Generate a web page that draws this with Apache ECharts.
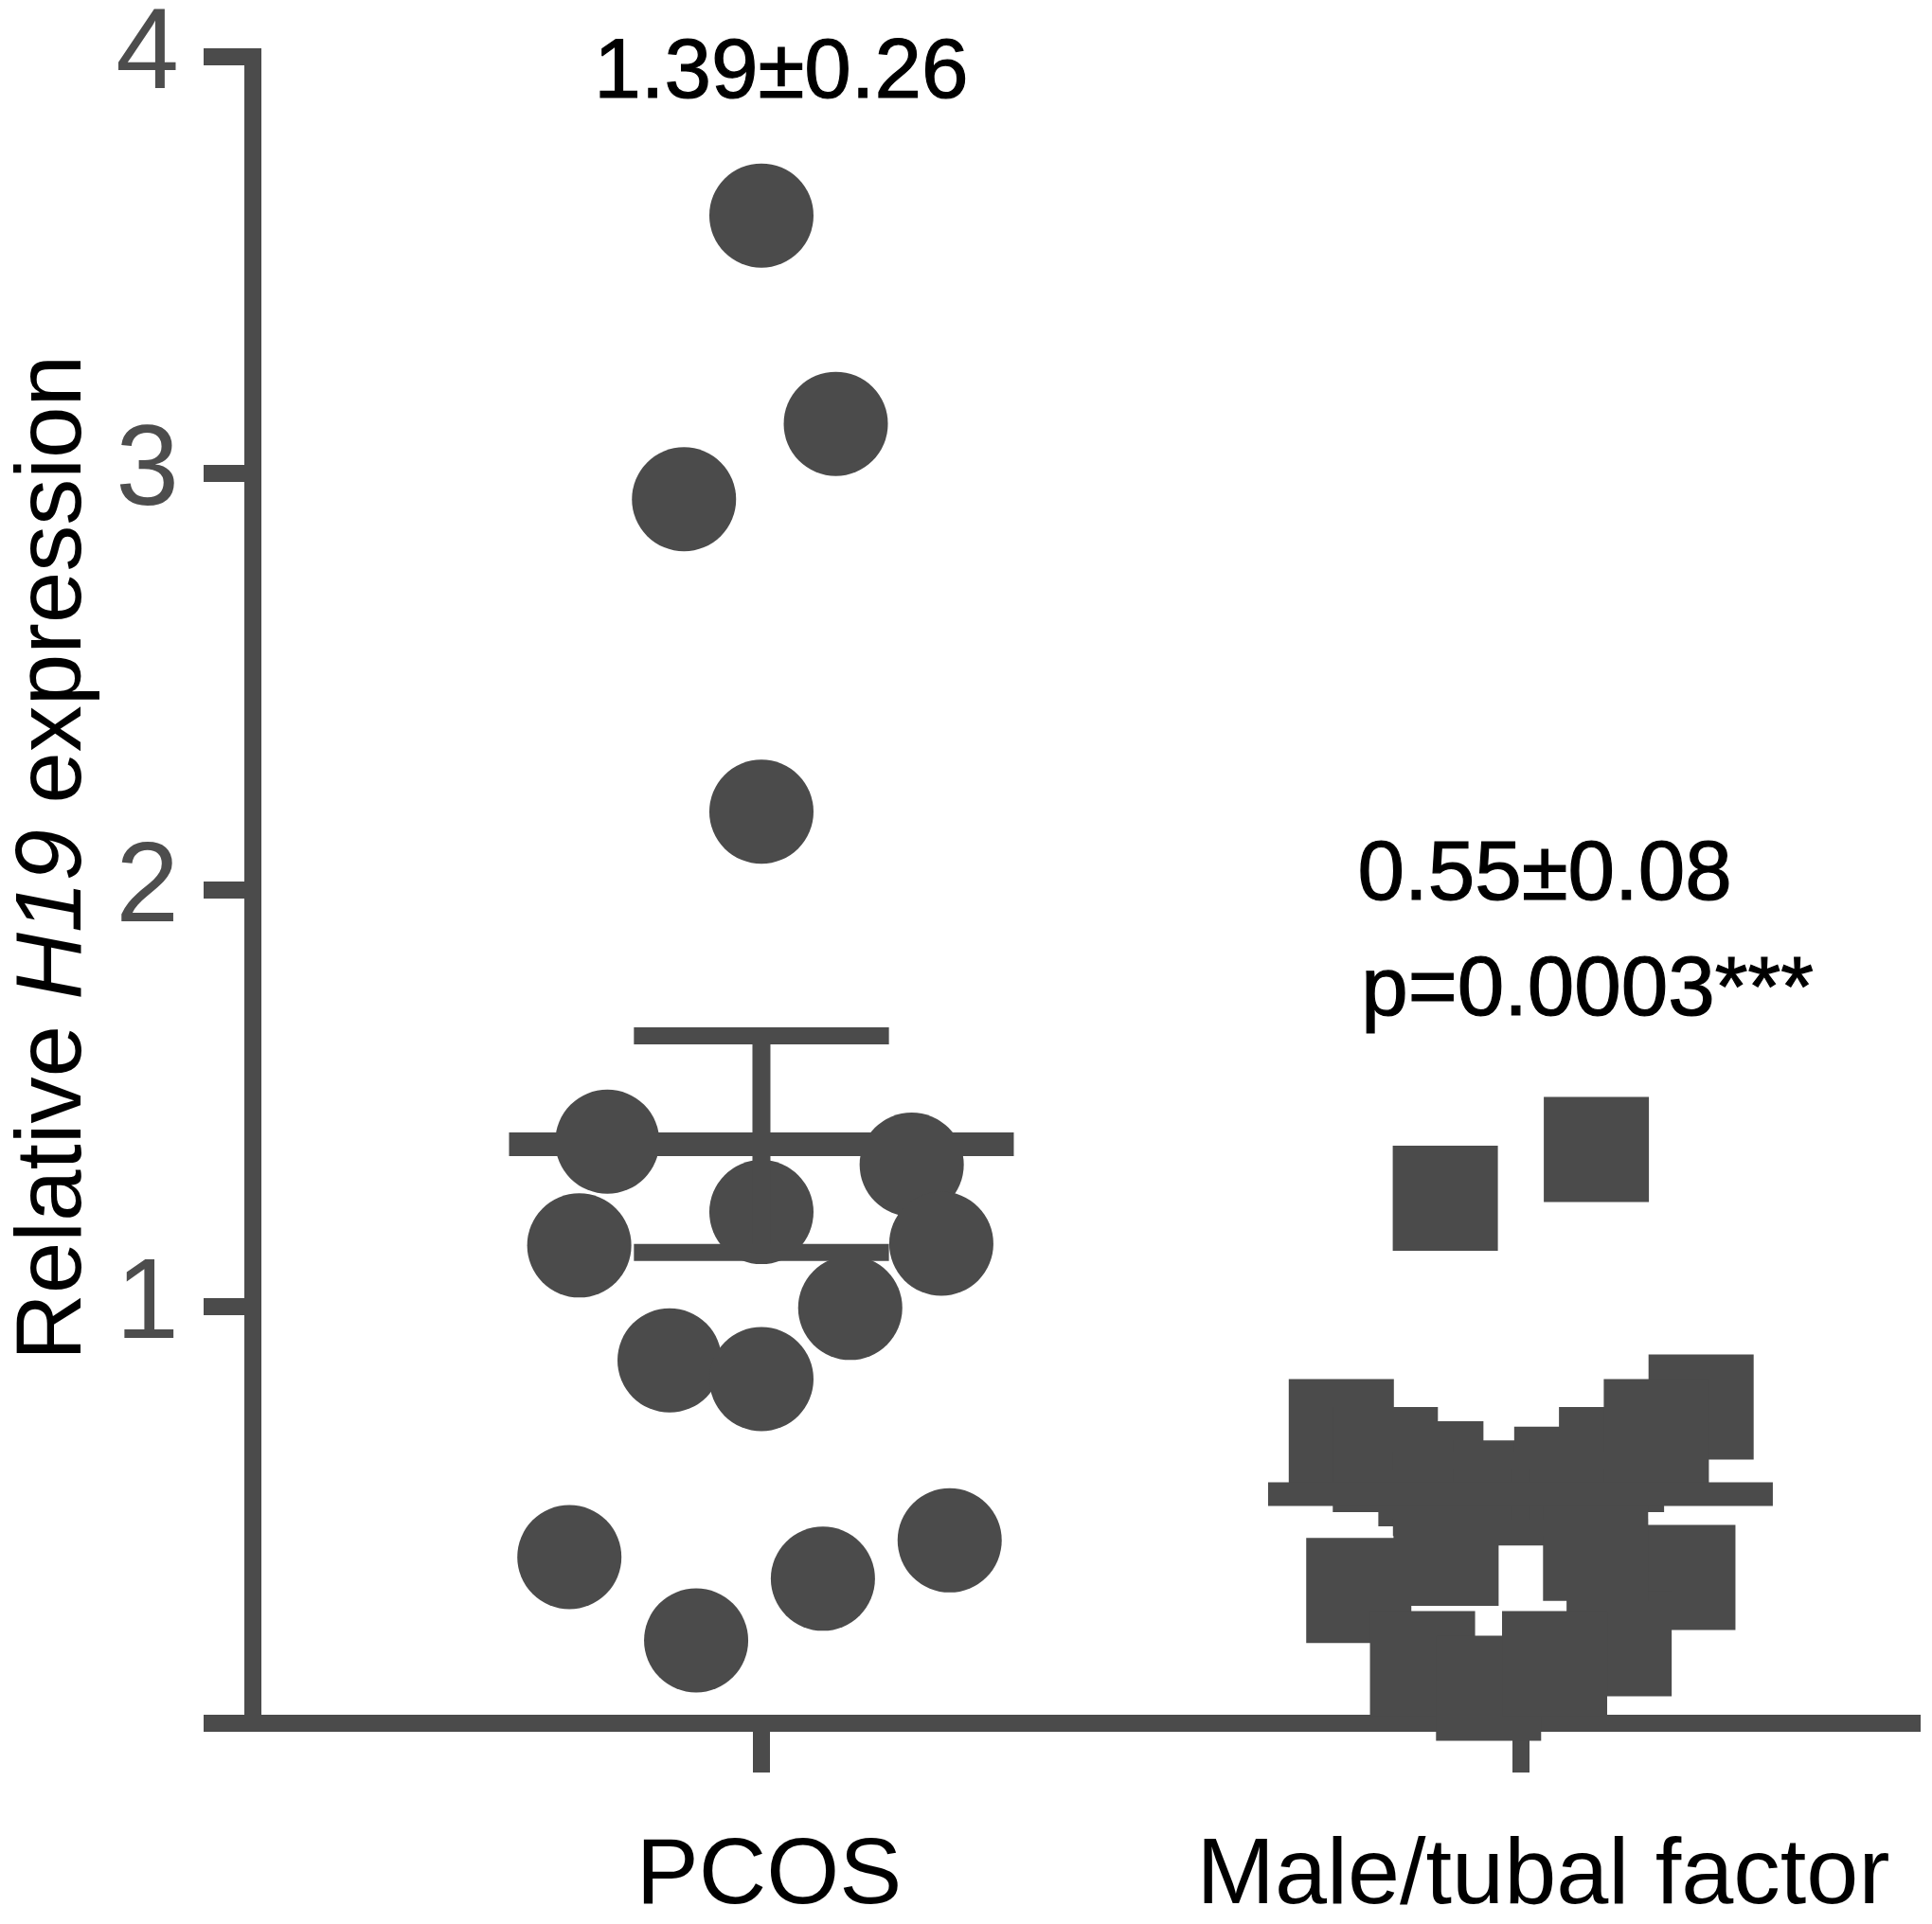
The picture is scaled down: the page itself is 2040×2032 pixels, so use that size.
<!DOCTYPE html>
<html>
<head>
<meta charset="utf-8">
<script src="https://cdn.jsdelivr.net/npm/echarts@6/dist/echarts.min.js"></script>
<style>
  html, body { margin: 0; padding: 0; background: #fff; }
  #chart { width: 2040px; height: 2032px; }
</style>
</head>
<body>
<div id="chart"></div>
<script>
// ---- data ----
const categories = ['PCOS', 'Male/tubal factor'];
const categoryPos = [1, 2];

// PCOS group (circles): horizontal swarm position, relative H19 expression
const pcosX = [1.000, 1.098, 0.898, 1.000, 0.797, 1.198, 1.000, 0.760, 1.237, 1.117, 0.879, 1.000, 0.747, 1.248, 1.081, 0.914];
const pcosY = [3.619, 3.119, 2.938, 2.188, 1.396, 1.341, 1.227, 1.147, 1.151, 0.997, 0.871, 0.826, 0.399, 0.439, 0.347, 0.199];

// Male/tubal factor group (squares)
const maleX = [1.901, 2.100, 2.238, 1.764, 1.822, 1.882, 1.981, 2.061, 2.120, 2.179, 1.787, 2.214, 1.871, 1.958, 2.130, 2.045, 1.902, 2.099];
const maleY = [1.260, 1.377, 0.759, 0.700, 0.633, 0.599, 0.553, 0.586, 0.633, 0.700, 0.319, 0.350, 0.143, 0.084, 0.191, 0.143, 0.408, 0.420];

// mean ± SEM
const groupMean = [1.39, 0.55];
const groupSem = [0.26, 0.08];

// annotation texts
const annotations = ['1.39\u00b10.26', '0.55\u00b10.08', 'p=0.0003***'];

const yTickMin = 0, yTickMax = 4, yTickStep = 1;

// ---- chart ----
const INK = '#4b4b4b';
const SANS = "'Liberation Sans', Arial, sans-serif";

const chart = echarts.init(document.getElementById('chart'), null, { renderer: 'canvas' });

const pcosData = pcosX.map((x, i) => [x, pcosY[i]]);
const maleData = maleX.map((x, i) => [x, maleY[i]]);
const barData = categoryPos.map((x, i) => [x, groupMean[i], groupSem[i]]);

const option = {
  backgroundColor: '#ffffff',
  animation: false,
  grid: { left: 267, right: 21, top: 50, bottom: 196, containLabel: false },
  xAxis: {
    type: 'value',
    min: 0.33,
    max: 2.516,
    splitLine: { show: false },
    axisLine: { show: true, onZero: false, lineStyle: { color: INK, width: 18, cap: 'square' } },
    axisTick: { show: true, customValues: categoryPos, length: 52, lineStyle: { color: INK, width: 18 } },
    axisLabel: {
      show: true,
      customValues: categoryPos,
      margin: 113,
      color: '#000',
      fontSize: 99,
      fontFamily: SANS,
      formatter: function (v) {
        const i = Math.round(v) - 1;
        return i === 0 ? '{p|' + categories[0] + '}' : '{m|' + categories[1] + '}';
      },
      rich: {
        p: { fontSize: 99, fontFamily: SANS, color: '#000', padding: [0, 0, 0, 16] },
        m: { fontSize: 99, fontFamily: SANS, color: '#000', padding: [0, 0, 0, 48] }
      }
    }
  },
  yAxis: {
    type: 'value',
    min: yTickMin,
    max: yTickMax,
    interval: yTickStep,
    splitLine: { show: false },
    axisLine: { show: true, onZero: false, lineStyle: { color: INK, width: 18, cap: 'square' } },
    axisTick: { show: true, length: 52, lineStyle: { color: INK, width: 18 } },
    axisLabel: {
      show: true,
      margin: 78,
      color: '#4d4d4d',
      fontSize: 120,
      fontFamily: SANS,
      formatter: function (v) { return v === 0 ? '' : String(v); }
    },
    name: '{a|Relative }{b|H19}{a| expression}',
    nameLocation: 'middle',
    nameGap: 160,
    nameTextStyle: {
      fontSize: 98,
      fontFamily: SANS,
      color: '#000',
      padding: [0, 0, 0, 68],
      rich: {
        a: { fontSize: 98, fontFamily: SANS, color: '#000' },
        b: { fontSize: 98, fontFamily: SANS, color: '#000', fontStyle: 'italic' }
      }
    }
  },
  series: [
    {
      type: 'scatter',
      name: categories[0],
      data: pcosData,
      symbol: 'circle',
      symbolSize: 110,
      itemStyle: { color: INK, opacity: 1 },
      z: 3,
      silent: true
    },
    {
      type: 'scatter',
      name: categories[1],
      data: maleData,
      symbol: 'rect',
      symbolSize: 111,
      itemStyle: { color: INK, opacity: 1 },
      z: 3,
      silent: true
    },
    {
      type: 'custom',
      name: 'mean ± SEM',
      data: barData,
      z: 4,
      silent: true,
      clip: false,
      renderItem: function (params, api) {
        const x = api.value(0), m = api.value(1), s = api.value(2);
        const c = api.coord([x, m]);
        const t = api.coord([x, m + s]);
        const b = api.coord([x, m - s]);
        const halfMean = api.size([0.3325, 0])[0];
        const halfCap = api.size([0.168, 0])[0];
        const st = { stroke: INK, fill: null };
        return {
          type: 'group',
          children: [
            { type: 'line', shape: { x1: c[0], y1: t[1], x2: c[0], y2: b[1] }, style: Object.assign({ lineWidth: 19 }, st) },
            { type: 'line', shape: { x1: c[0] - halfCap, y1: t[1], x2: c[0] + halfCap, y2: t[1] }, style: Object.assign({ lineWidth: 18 }, st) },
            { type: 'line', shape: { x1: c[0] - halfCap, y1: b[1], x2: c[0] + halfCap, y2: b[1] }, style: Object.assign({ lineWidth: 18 }, st) },
            { type: 'line', shape: { x1: c[0] - halfMean, y1: c[1], x2: c[0] + halfMean, y2: c[1] }, style: Object.assign({ lineWidth: 25 }, st) }
          ]
        };
      }
    },
    {
      type: 'scatter',
      name: 'annotations',
      data: [[1.026, 3.958], [2.032, 2.034], [2.088, 1.755]],
      symbolSize: 1,
      itemStyle: { color: 'rgba(255,255,255,0)', opacity: 1 },
      silent: true,
      z: 5,
      label: {
        show: true,
        position: 'inside',
        color: '#000',
        opacity: 1,
        fontSize: 89,
        fontFamily: SANS,
        textBorderColor: '#000',
        textBorderWidth: 1.2,
        formatter: function (p) { return annotations[p.dataIndex]; }
      }
    }
  ]
};

chart.setOption(option);
</script>
</body>
</html>
